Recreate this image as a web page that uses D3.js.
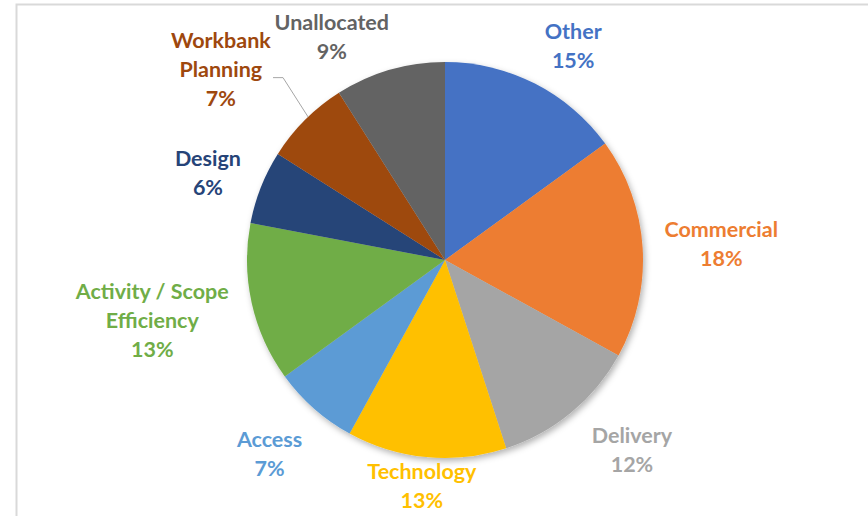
<!DOCTYPE html>
<html>
<head>
<meta charset="utf-8">
<style>
    body { margin: 0; background: #fff; }
    .lbl { font-family: Lato, "Open Sans", sans-serif; font-weight: bold; font-size: 21.5px; }
</style>
</head>
<body>
<svg width="868" height="516"></svg>
<script src="https://cdn.jsdelivr.net/npm/d3@7"></script>
<script>

    var categories = ["Other", "Commercial", "Delivery", "Technology", "Access",
                      "Activity / Scope Efficiency", "Design", "Workbank Planning", "Unallocated"];
    var values = [15, 18, 12, 13, 7, 13, 6, 7, 9];
    // label text lines per slice (Excel wraps the long names)
    var labelLines = [["Other"], ["Commercial"], ["Delivery"], ["Technology"], ["Access"],
                      ["Activity / Scope", "Efficiency"], ["Design"], ["Workbank", "Planning"], ["Unallocated"]];
    var colors = ["#4472C4", "#ED7D31", "#A5A5A5", "#FFC000", "#5B9BD5",
                  "#70AD47", "#264478", "#9E480E", "#636363"];

    // fine tuning of where Excel actually put each label (px), Workbank was dragged by hand
    var labelNudge = {
        "Other": [14, 3], "Commercial": [-3, 0], "Delivery": [19, 5], "Technology": [3, -14],
        "Access": [-6, 14], "Activity / Scope Efficiency": [0, 6], "Design": [1, 3],
        "Workbank Planning": [-31, -8], "Unallocated": [-35, 11]
    };

    var svg = d3.select("svg"),
        cx = 445, cy = 260, radius = 198,
        lineH = 29;

    // chart area border (only top/left visible in the crop)
    svg.append("rect")
        .attr("x", 16.5).attr("y", 4.5)
        .attr("width", 900).attr("height", 600)
        .attr("fill", "none")
        .attr("stroke", "#d9d9d9")
        .attr("stroke-width", 2);

    var defs = svg.append("defs");
    var f = defs.append("filter").attr("id", "shadow")
        .attr("x", "-20%").attr("y", "-20%").attr("width", "140%").attr("height", "140%");
    f.append("feDropShadow")
        .attr("dx", 2).attr("dy", 3).attr("stdDeviation", 3)
        .attr("flood-color", "#000").attr("flood-opacity", 0.3);

    var data = categories.map(function (c, i) {
        return {name: c, value: values[i], lines: labelLines[i], color: colors[i]};
    });

    var pie = d3.pie().sort(null).value(function (d) { return d.value; });
    var arc = d3.arc().innerRadius(0).outerRadius(radius);
    var arcs = pie(data);

    var g = svg.append("g").attr("transform", "translate(" + cx + "," + cy + ")");

    g.append("g")
        .attr("filter", "url(#shadow)")
        .selectAll("path")
        .data(arcs)
        .enter().append("path")
        .attr("d", arc)
        .attr("fill", function (d) { return d.data.color; });

    // labels placed outside the edge along the mid angle, box pushed outward by its own size
    var labels = g.append("g").selectAll("text")
        .data(arcs)
        .enter().append("text")
        .attr("class", "lbl")
        .attr("text-anchor", "middle")
        .attr("fill", function (d) { return d.data.color; });

    labels.each(function (d) {
        var t = d3.select(this);
        var lines = d.data.lines.concat([d.data.value + "%"]);
        lines.forEach(function (s, i) {
            t.append("tspan").attr("x", 0).attr("dy", i === 0 ? 0 : lineH).text(s);
        });
        var bb = this.getBBox();
        var w = bb.width, h = lines.length * lineH;
        var a = (d.startAngle + d.endAngle) / 2;
        var r = radius + 15;
        var nudge = labelNudge[d.data.name] || [0, 0];
        var px = Math.sin(a) * r + Math.sin(a) * w / 2 + Math.sin(a) * 10 + nudge[0],
            py = -Math.cos(a) * r - Math.cos(a) * h / 2 + nudge[1];
        d.lx = px; d.ly = py; d.lw = w; d.lh = h;
        t.attr("transform", "translate(" + px + "," + (py - h / 2 + lineH * 0.72) + ")");
    });

    // leader line for the moved label, ends on the slice's outer edge
    arcs.filter(function (d) { return d.data.name === "Workbank Planning"; }).forEach(function (d) {
        var ea = d.startAngle + 0.55 * (d.endAngle - d.startAngle);
        var ex = Math.sin(ea) * radius, ey = -Math.cos(ea) * radius;
        var sx = d.lx + d.lw / 2 + 2, sy = d.ly + 7;
        g.append("path")
            .attr("d", "M" + sx + "," + sy + "L" + (sx + 10) + "," + sy + "L" + ex + "," + ey)
            .attr("fill", "none")
            .attr("stroke", "#a6a6a6")
            .attr("stroke-width", 1);
    });

</script>
</body>
</html>
